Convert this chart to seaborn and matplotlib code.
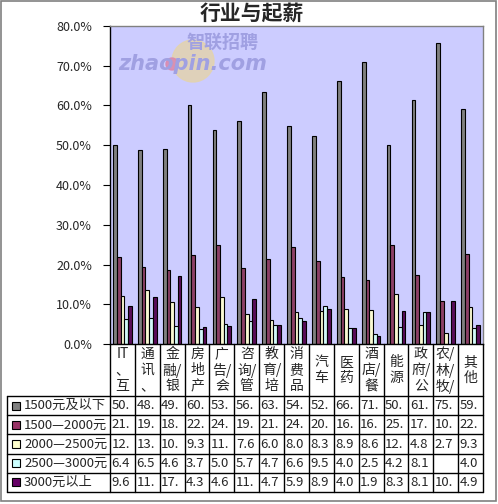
import numpy as np
import pandas as pd
import seaborn as sns
import matplotlib.pyplot as plt
from matplotlib.patches import Rectangle, Circle
from matplotlib.ticker import FuncFormatter

# categories as they show in the chart (Excel clips the wrapped labels)
categories = ["IT\n、\n互", "通\n讯\n、", "金\n融/\n银", "房\n地\n产", "广\n告/\n会",
              "咨\n询/\n管", "教\n育/\n培", "消\n费\n品", "汽\n车", "医\n药",
              "酒\n店/\n餐", "能\n源", "政\n府/\n公", "农/\n林/\n牧/", "其\n他"]
series_names = ["1500元及以下", "1500—2000元", "2000—2500元", "2500—3000元", "3000元以上"]
colors = ["#808080", "#993366", "#FFFFCC", "#CCFFFF", "#660066"]

s_1500_below = [50.0, 48.7, 49.1, 60.2, 53.8, 56.1, 63.3, 54.8, 52.3, 66.1, 71.0, 50.0, 61.4, 75.7, 59.1]
s_1500_2000 = [21.8, 19.3, 18.5, 22.3, 24.8, 19.0, 21.3, 24.3, 20.8, 16.8, 16.0, 25.0, 17.4, 10.7, 22.6]
s_2000_2500 = [12.2, 13.5, 10.5, 9.3, 11.7, 7.6, 6.0, 8.0, 8.3, 8.9, 8.6, 12.5, 4.8, 2.7, 9.3]
s_2500_3000 = [6.4, 6.5, 4.6, 3.7, 5.0, 5.7, 4.7, 6.6, 9.5, 4.0, 2.5, 4.2, 8.1, np.nan, 4.0]
s_3000_above = [9.6, 11.7, 17.0, 4.3, 4.6, 11.2, 4.7, 5.9, 8.9, 4.0, 1.9, 8.3, 8.1, 10.7, 4.9]

all_series = [s_1500_below, s_1500_2000, s_2000_2500, s_2500_3000, s_3000_above]

rows = []
for name, vals in zip(series_names, all_series):
    for cat, v in zip(categories, vals):
        rows.append({"行业": cat, "起薪": name, "比例": v / 100})
df = pd.DataFrame(rows)

sns.set_style("white")
plt.rcParams["font.family"] = ["Noto Sans CJK SC", "DejaVu Sans"]

W, H = 498, 504
fig = plt.figure(figsize=(W / 100, H / 100), dpi=100)
fig.patch.set_facecolor("white")

# plot area in pixels
px_l, px_r, px_t, px_b = 110, 483, 26, 344
ax = fig.add_axes([px_l / W, 1 - px_b / H, (px_r - px_l) / W, (px_b - px_t) / H])
ax.set_facecolor("#CCCCFF")

sns.barplot(data=df, x="行业", y="比例", hue="起薪", palette=colors, hue_order=series_names,
            order=categories, width=0.75, edgecolor="black", linewidth=0.8,
            legend=False, ax=ax, zorder=2, errorbar=None)

ax.set_ylim(0, 0.8)
ax.set_yticks(np.arange(0, 0.81, 0.1))
ax.yaxis.set_major_formatter(FuncFormatter(lambda v, p: f"{v * 100:.1f}%"))
ax.tick_params(axis="y", direction="out", length=5, width=0.8, color="black", labelsize=9,
               left=True, pad=8)
ax.set_xticks([])
ax.set_xlabel("")
ax.set_ylabel("")
ax.set_xlim(-0.5, len(categories) - 0.5)
for side in ["top", "right"]:
    ax.spines[side].set_color("#808080")
    ax.spines[side].set_linewidth(1)
for side in ["left", "bottom"]:
    ax.spines[side].set_color("black")
    ax.spines[side].set_linewidth(1)

# overlay in pixel coordinates for title, watermark and data table
ov = fig.add_axes([0, 0, 1, 1], zorder=5)
ov.set_xlim(0, W)
ov.set_ylim(H, 0)
ov.axis("off")
ov.patch.set_alpha(0)

ov.add_patch(Rectangle((0.5, 0.5), W - 3, H - 4, fill=False, edgecolor="#808080", lw=1.2))
ov.text(252, 13, "行业与起薪", ha="center", va="center", fontsize=15, fontweight="bold")

# watermark (no bars reach up here)
ov.add_patch(Circle((193, 61), 21, color="#E3D3AE", alpha=0.85))
ov.text(222, 42, "智联招聘", ha="center", va="center", fontsize=13, fontweight="bold",
        color="#A0A0E2", fontstyle="italic")
ov.text(193, 64, "zhaopin.com", ha="center", va="center", fontsize=15, fontweight="bold",
        color="#A0A0E2", fontstyle="italic", family="DejaVu Sans")
ov.add_patch(Circle((172, 64), 6, color="#D98AB0", alpha=0.9))

n = len(categories)
col_w = (px_r - px_l) / n
hdr_bot = 396
row_h = 19.2
tbl_l = 7
tbl_bot = hdr_bot + row_h * len(series_names)

# grid
for i in range(n + 1):
    x = px_l + i * col_w
    ov.plot([x, x], [px_b, tbl_bot], color="black", lw=1)
ov.plot([tbl_l, tbl_l], [hdr_bot, tbl_bot], color="black", lw=1)
for j in range(len(series_names) + 1):
    y = hdr_bot + j * row_h
    ov.plot([tbl_l, px_r], [y, y], color="black", lw=1)

# category header, one char per line
for i, cat in enumerate(categories):
    cx = px_l + (i + 0.5) * col_w
    lines = cat.split("\n")
    cy0 = (px_b + hdr_bot) / 2 - (len(lines) - 1) * 16 / 2
    for k, ch in enumerate(lines):
        ov.text(cx, cy0 + k * 16, ch, ha="center", va="center", fontsize=10)

# rows: legend key + clipped values
for j, (name, vals, c) in enumerate(zip(series_names, all_series, colors)):
    cy = hdr_bot + (j + 0.5) * row_h
    ov.add_patch(Rectangle((12, cy - 4), 8, 8, facecolor=c, edgecolor="black", lw=0.8))
    ov.text(24, cy, name, ha="left", va="center", fontsize=9.5)
    for i, v in enumerate(vals):
        if np.isnan(v):
            continue
        txt = f"{v:.1f}"[:3]
        ov.text(px_l + i * col_w + 1.5, cy, txt, ha="left", va="center", fontsize=9.5)

fig.savefig("out.png", dpi=100)
